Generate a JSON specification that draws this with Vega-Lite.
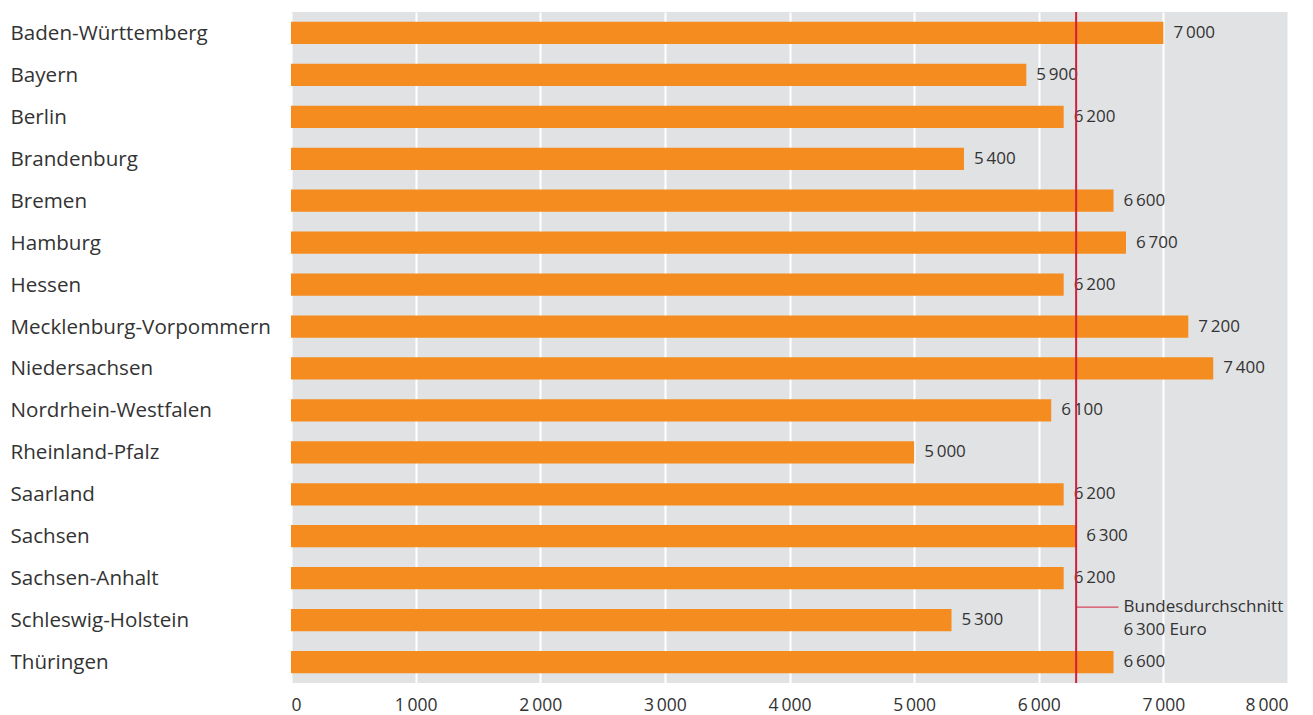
{
  "$schema": "https://vega.github.io/schema/vega-lite/v6.json",
  "width": 997,
  "height": 671,
  "autosize": {"type": "none"},
  "padding": {"left": 291, "top": 12, "right": 25, "bottom": 32},
  "background": "white",
  "config": {
    "view": {"fill": "#e1e2e4", "stroke": null},
    "font": "Open Sans"
  },
  "datasets": {
    "laender": [
      {"land": "Baden-Württemberg", "wert": 7000, "label": "7\u2009000"},
      {"land": "Bayern", "wert": 5900, "label": "5\u2009900"},
      {"land": "Berlin", "wert": 6200, "label": "6\u2009200"},
      {"land": "Brandenburg", "wert": 5400, "label": "5\u2009400"},
      {"land": "Bremen", "wert": 6600, "label": "6\u2009600"},
      {"land": "Hamburg", "wert": 6700, "label": "6\u2009700"},
      {"land": "Hessen", "wert": 6200, "label": "6\u2009200"},
      {"land": "Mecklenburg-Vorpommern", "wert": 7200, "label": "7\u2009200"},
      {"land": "Niedersachsen", "wert": 7400, "label": "7\u2009400"},
      {"land": "Nordrhein-Westfalen", "wert": 6100, "label": "6\u2009100"},
      {"land": "Rheinland-Pfalz", "wert": 5000, "label": "5\u2009000"},
      {"land": "Saarland", "wert": 6200, "label": "6\u2009200"},
      {"land": "Sachsen", "wert": 6300, "label": "6\u2009300"},
      {"land": "Sachsen-Anhalt", "wert": 6200, "label": "6\u2009200"},
      {"land": "Schleswig-Holstein", "wert": 5300, "label": "5\u2009300"},
      {"land": "Thüringen", "wert": 6600, "label": "6\u2009600"}
    ],
    "anno": [
      {"land": "Schleswig-Holstein", "von": 6300, "bis": 6640, "textx": 6680, "text": ["Bundesdurchschnitt", "6\u2009300 Euro"]}
    ]
  },
  "encoding": {
    "y": {
      "field": "land",
      "type": "nominal",
      "sort": null,
      "title": null,
      "scale": {"paddingInner": 0.47, "paddingOuter": 0.235},
      "axis": {
        "domain": false,
        "ticks": false,
        "labelAlign": "left",
        "labelPadding": 281,
        "labelFontSize": 20.6,
        "labelColor": "#333333",
        "labelFont": "Open Sans",
        "labelLimit": 300,
        "labelOffset": 1
      }
    }
  },
  "layer": [
    {
      "data": {"name": "laender"},
      "mark": {"type": "bar", "color": "#f58c1f"},
      "encoding": {
        "x": {
          "field": "wert",
          "type": "quantitative",
          "title": null,
          "scale": {"domain": [0, 8000], "nice": false},
          "axis": {
            "values": [0, 1000, 2000, 3000, 4000, 5000, 6000, 7000, 8000],
            "labelExpr": "replace(format(datum.value, ',d'), ',', '\u2009')",
            "domain": false,
            "ticks": false,
            "labelPadding": 13,
            "labelFontSize": 17.5,
            "labelColor": "#333333",
            "labelFont": "Open Sans",
            "grid": true,
            "gridColor": "#ffffff",
            "gridWidth": 2,
            "gridOpacity": 1
          }
        }
      }
    },
    {
      "data": {"name": "laender"},
      "mark": {"type": "text", "align": "left", "baseline": "middle", "dx": 10, "fontSize": 17, "color": "#333333", "font": "Open Sans"},
      "encoding": {
        "x": {"field": "wert", "type": "quantitative"},
        "text": {"field": "label"}
      }
    },
    {
      "data": {"values": [{"avg": 6300}]},
      "mark": {"type": "rule", "color": "#d21f3c", "strokeWidth": 2},
      "encoding": {
        "x": {"field": "avg", "type": "quantitative"},
        "y": {"value": 0},
        "y2": {"value": 671}
      }
    },
    {
      "data": {"name": "anno"},
      "mark": {"type": "rule", "color": "#d21f3c", "strokeWidth": 1, "yOffset": -13},
      "encoding": {
        "x": {"field": "von", "type": "quantitative"},
        "x2": {"field": "bis"}
      }
    },
    {
      "data": {"name": "anno"},
      "mark": {"type": "text", "align": "left", "baseline": "middle", "dy": -13, "fontSize": 17, "color": "#333333", "lineHeight": 23, "font": "Open Sans"},
      "encoding": {
        "x": {"field": "textx", "type": "quantitative"},
        "text": {"field": "text"}
      }
    }
  ]
}
